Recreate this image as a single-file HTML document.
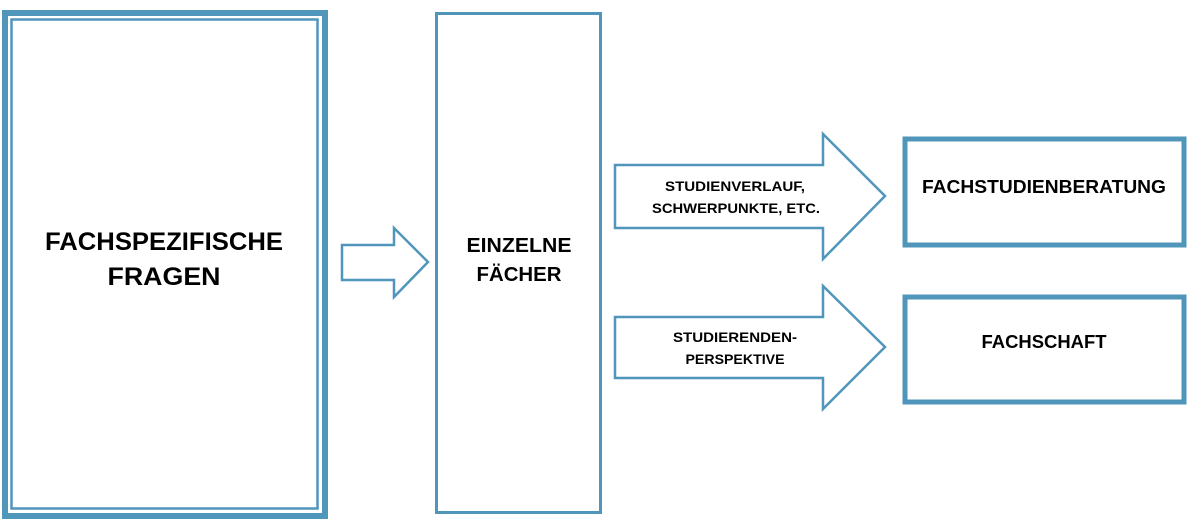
<!DOCTYPE html>
<html><head><meta charset="utf-8"><style>
html,body{margin:0;padding:0;background:#fff;}
svg{display:block;}
text{font-family:"Liberation Sans",sans-serif;font-weight:bold;fill:#000;}
</style></head><body>
<svg width="1198" height="525" viewBox="0 0 1198 525" xmlns="http://www.w3.org/2000/svg">
<g fill="none" stroke="#5096bb">
<rect x="5" y="13" width="320" height="503" stroke-width="6"/>
<rect x="11.5" y="19.5" width="306" height="489" stroke-width="2.5"/>
<rect x="436.5" y="13.5" width="164" height="499" stroke-width="3"/>
<polygon points="342,245 394,245 394,228 428,262 394,297 394,280 342,280" stroke-width="2.5"/>
<polygon points="615,165 823,165 823,134 885,196 823,259 823,228 615,228" stroke-width="2.5"/>
<polygon points="615,317 823,317 823,286 885,347 823,409 823,378 615,378" stroke-width="2.5"/>
<rect x="905" y="139" width="279" height="106" stroke-width="5"/>
<rect x="905" y="297" width="279" height="105" stroke-width="5"/>
</g>
<text x="164" y="250" font-size="25" text-anchor="middle" textLength="238" lengthAdjust="spacingAndGlyphs">FACHSPEZIFISCHE</text>
<text x="164" y="285" font-size="25" text-anchor="middle" textLength="113" lengthAdjust="spacingAndGlyphs">FRAGEN</text>
<text x="519" y="252" font-size="20" text-anchor="middle" textLength="105" lengthAdjust="spacingAndGlyphs">EINZELNE</text>
<text x="519" y="281" font-size="20" text-anchor="middle" textLength="85" lengthAdjust="spacingAndGlyphs">FÄCHER</text>
<text x="735" y="191" font-size="14" text-anchor="middle" textLength="140" lengthAdjust="spacingAndGlyphs">STUDIENVERLAUF,</text>
<text x="736" y="213" font-size="14" text-anchor="middle" textLength="168" lengthAdjust="spacingAndGlyphs">SCHWERPUNKTE, ETC.</text>
<text x="735" y="342" font-size="14" text-anchor="middle" textLength="124" lengthAdjust="spacingAndGlyphs">STUDIERENDEN-</text>
<text x="735" y="364" font-size="14" text-anchor="middle" textLength="99" lengthAdjust="spacingAndGlyphs">PERSPEKTIVE</text>
<text x="1044" y="193" font-size="18" text-anchor="middle" textLength="244" lengthAdjust="spacingAndGlyphs">FACHSTUDIENBERATUNG</text>
<text x="1044" y="348" font-size="18" text-anchor="middle" textLength="125" lengthAdjust="spacingAndGlyphs">FACHSCHAFT</text>
</svg>
</body></html>
